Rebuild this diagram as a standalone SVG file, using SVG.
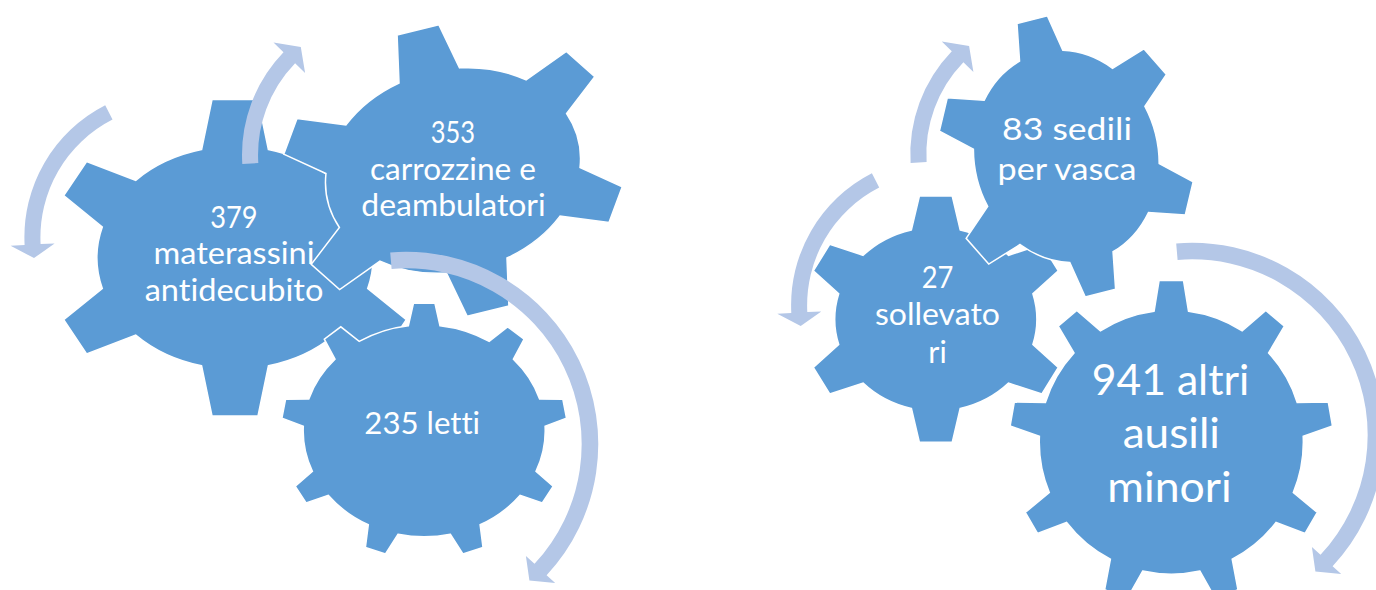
<svg xmlns="http://www.w3.org/2000/svg" width="1376" height="590" viewBox="0 0 1376 590">
<style>
.gear{fill:#5B9BD5;stroke:#FFFFFF;stroke-width:1.5;stroke-linejoin:miter}
.arrow{fill:#B4C7E7}
.lbl{font-family:Lato,'Open Sans','Liberation Sans',sans-serif;fill:#FFFFFF;text-anchor:middle;font-variant-ligatures:none;font-feature-settings:"liga" 0,"clig" 0}
.m{font-size:30.5px}
.l{font-size:42px}
</style>
<rect width="1376" height="590" fill="#FFFFFF"/>
<g id="gear-379">
<path class="gear" transform="translate(235 257.7)" d="M-33.4,-108.1 L-23,-158.2 L23,-158.2 L33.4,-108.1 A138,111.4 0 0 1 99.3,-77.4 L148.4,-96.2 L171.3,-62 L132.7,-30.7 A138,111.4 0 0 1 132.7,30.7 L171.3,62 L148.4,96.2 L99.3,77.4 A138,111.4 0 0 1 33.4,108.1 L23,158.2 L-23,158.2 L-33.4,108.1 A138,111.4 0 0 1 -99.3,77.4 L-148.4,96.2 L-171.3,62 L-132.7,30.7 A138,111.4 0 0 1 -132.7,-30.7 L-171.3,-62 L-148.4,-96.2 L-99.3,-77.4 A138,111.4 0 0 1 -33.4,-108.1 Z"/>
<text class="lbl m" x="234" y="227.7" textLength="47.3" lengthAdjust="spacingAndGlyphs">379</text>
<text class="lbl m" x="234" y="264" textLength="161" lengthAdjust="spacingAndGlyphs">materassini</text>
<text class="lbl m" x="234" y="300.7" textLength="178.7" lengthAdjust="spacingAndGlyphs">antidecubito</text>
</g>
<g id="gear-353">
<path class="gear" transform="translate(453 170.5) rotate(-14)" d="M-31.2,-98 L-21.5,-144.9 L21.5,-144.9 L31.2,-98 A129,101 0 0 1 92.8,-70.2 L138.8,-88.1 L160.3,-56.8 L124,-27.8 A129,101 0 0 1 124,27.8 L160.3,56.8 L138.8,88.1 L92.8,70.2 A129,101 0 0 1 31.2,98 L21.5,144.9 L-21.5,144.9 L-31.2,98 A129,101 0 0 1 -92.8,70.2 L-138.8,88.1 L-160.3,56.8 L-124,27.8 A129,101 0 0 1 -124,-27.8 L-160.3,-56.8 L-138.8,-88.1 L-92.8,-70.2 A129,101 0 0 1 -31.2,-98 Z"/>
<text class="lbl m" x="453" y="143.3" textLength="44.3" lengthAdjust="spacingAndGlyphs">353</text>
<text class="lbl m" x="453" y="180" textLength="166" lengthAdjust="spacingAndGlyphs">carrozzine e</text>
<text class="lbl m" x="453.5" y="216" textLength="184.3" lengthAdjust="spacingAndGlyphs">deambulatori</text>
</g>
<g id="gear-235">
<path class="gear" transform="translate(424.2 430.8)" d="M-15.8,-105.1 L-10.7,-127.6 L10.7,-127.6 L15.8,-105.1 A121,106 0 0 1 65,-89.4 L83.4,-104 L99.9,-91.6 L89.2,-71.6 A121,106 0 0 1 115.4,-31.9 L138.6,-31.6 L142.3,-12.7 L120.9,-4.6 A121,106 0 0 1 111.8,40.6 L128.9,55.5 L118.1,72.1 L96,64.5 A121,106 0 0 1 55.9,94 L58.8,116.7 L38.7,123.2 L26.2,103.5 A121,106 0 0 1 -26.2,103.5 L-38.7,123.2 L-58.8,116.7 L-55.9,94 A121,106 0 0 1 -96,64.5 L-118.1,72.1 L-128.9,55.5 L-111.8,40.6 A121,106 0 0 1 -120.9,-4.6 L-142.3,-12.7 L-138.6,-31.6 L-115.4,-31.9 A121,106 0 0 1 -89.2,-71.6 L-99.9,-91.6 L-83.4,-104 L-65,-89.4 A121,106 0 0 1 -15.8,-105.1 Z"/>
<text class="lbl m" x="422.2" y="434" textLength="115.7" lengthAdjust="spacingAndGlyphs">235 letti</text>
</g>
<g id="gear-27">
<path class="gear" transform="translate(935.8 319.2)" d="M-24.4,-89.3 L-16.4,-123.1 L16.4,-123.1 L24.4,-89.3 A101,92 0 0 1 72.7,-63.9 L106.1,-74.8 L122.5,-48.3 L97.1,-25.4 A101,92 0 0 1 97.1,25.4 L122.5,48.3 L106.1,74.8 L72.7,63.9 A101,92 0 0 1 24.4,89.3 L16.4,123.1 L-16.4,123.1 L-24.4,89.3 A101,92 0 0 1 -72.7,63.9 L-106.1,74.8 L-122.5,48.3 L-97.1,25.4 A101,92 0 0 1 -97.1,-25.4 L-122.5,-48.3 L-106.1,-74.8 L-72.7,-63.9 A101,92 0 0 1 -24.4,-89.3 Z"/>
<text class="lbl m" x="937.5" y="288.3" textLength="31.7" lengthAdjust="spacingAndGlyphs">27</text>
<text class="lbl m" x="937.5" y="325" textLength="125" lengthAdjust="spacingAndGlyphs">sollevato</text>
<text class="lbl m" x="937.5" y="363.3" textLength="18.4" lengthAdjust="spacingAndGlyphs">ri</text>
</g>
<g id="gear-83">
<path class="gear" transform="translate(1066.3 156.4) rotate(-14)" d="M-22.3,-103.8 L-15.7,-140.9 L15.7,-140.9 L22.3,-103.8 A92,107 0 0 1 66.2,-74.3 L101.3,-85.7 L117,-55.3 L88.4,-29.5 A92,107 0 0 1 88.4,29.5 L117,55.3 L101.3,85.7 L66.2,74.3 A92,107 0 0 1 22.3,103.8 L15.7,140.9 L-15.7,140.9 L-22.3,103.8 A92,107 0 0 1 -66.2,74.3 L-101.3,85.7 L-117,55.3 L-88.4,29.5 A92,107 0 0 1 -88.4,-29.5 L-117,-55.3 L-101.3,-85.7 L-66.2,-74.3 A92,107 0 0 1 -22.3,-103.8 Z"/>
<text class="lbl m" x="1067" y="140" textLength="130" lengthAdjust="spacingAndGlyphs">83 sedili</text>
<text class="lbl m" x="1067" y="180" textLength="139" lengthAdjust="spacingAndGlyphs">per vasca</text>
</g>
<g id="gear-941">
<path class="gear" transform="translate(1171.3 442.1)" d="M-17.2,-130.9 L-12.2,-161.6 L12.2,-161.6 L17.2,-130.9 A132,132 0 0 1 70.9,-111.3 L94.5,-131.6 L113.1,-115.9 L97.3,-89.2 A132,132 0 0 1 125.9,-39.7 L157,-40 L161.2,-16.1 L131.9,-5.8 A132,132 0 0 1 122,50.5 L146,70.3 L133.8,91.3 L104.7,80.4 A132,132 0 0 1 60.9,117.1 L66.7,147.7 L43.8,156 L28.6,128.9 A132,132 0 0 1 -28.6,128.9 L-43.8,156 L-66.7,147.7 L-60.9,117.1 A132,132 0 0 1 -104.7,80.4 L-133.8,91.3 L-146,70.3 L-122,50.5 A132,132 0 0 1 -131.9,-5.8 L-161.2,-16.1 L-157,-40 L-125.9,-39.7 A132,132 0 0 1 -97.3,-89.2 L-113.1,-115.9 L-94.5,-131.6 L-70.9,-111.3 A132,132 0 0 1 -17.2,-130.9 Z"/>
<text class="lbl l" x="1170.5" y="395" textLength="157.6" lengthAdjust="spacingAndGlyphs">941 altri</text>
<text class="lbl l" x="1171.3" y="448.3" textLength="97.3" lengthAdjust="spacingAndGlyphs">ausili</text>
<text class="lbl l" x="1169.5" y="501.7" textLength="124.3" lengthAdjust="spacingAndGlyphs">minori</text>
</g>
<g id="connectors">
<path id="arrow-379" class="arrow" d="M105.2,105.3 A148,148 0 0 0 24.6,244.9 L10.6,245.7 L34,258.1 L54.6,243.4 L40.6,244.1 A132,132 0 0 1 112.5,119.6 Z"/>
<path id="arrow-353" class="arrow" d="M242.3,164 A148,148 0 0 1 283.5,52.2 L273.5,42.5 L300.8,47.1 L305.1,73 L295.1,63.3 A132,132 0 0 0 258.3,163.1 Z"/>
<path id="arrow-235" class="arrow" d="M390.2,252.4 A192.3,192.3 0 0 1 546.6,575.2 L555.2,583.1 L529.4,580.5 L525.9,555.9 L534.5,563.8 A175.7,175.7 0 0 0 391.6,268.9 Z"/>
<path id="arrow-27" class="arrow" transform="translate(766.7 68)" d="M105.2,105.3 A148,148 0 0 0 24.6,244.9 L10.6,245.7 L34,258.1 L54.6,243.4 L40.6,244.1 A132,132 0 0 1 112.5,119.6 Z"/>
<path id="arrow-83" class="arrow" transform="translate(668.3 -1)" d="M242.3,164 A148,148 0 0 1 283.5,52.2 L273.5,42.5 L300.8,47.1 L305.1,73 L295.1,63.3 A132,132 0 0 0 258.3,163.1 Z"/>
<path id="arrow-941" class="arrow" transform="translate(786 -9)" d="M390.2,252.4 A192.3,192.3 0 0 1 546.6,575.2 L555.2,583.1 L529.4,580.5 L525.9,555.9 L534.5,563.8 A175.7,175.7 0 0 0 391.6,268.9 Z"/>
</g>
</svg>
